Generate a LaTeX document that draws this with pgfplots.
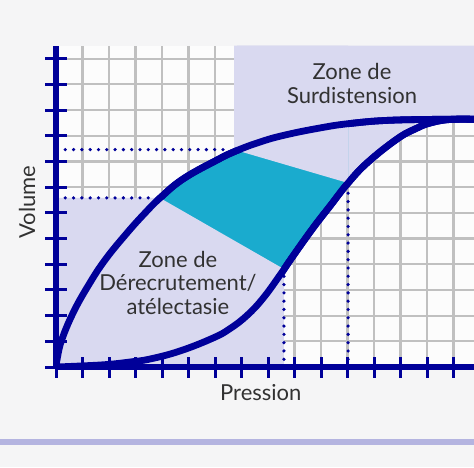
\documentclass[border=0pt]{standalone}
\usepackage{pgfplots}
\pgfplotsset{compat=1.18}
\usepackage{pgfplotstable}
\usepgfplotslibrary{fillbetween}
\usepackage{fontspec}
\setmainfont{Lato}
\definecolor{navy}{RGB}{0,0,153}
\definecolor{lav}{RGB}{217,217,240}
\definecolor{cyn}{RGB}{26,171,206}
\definecolor{gridc}{RGB}{192,192,192}
\definecolor{bgc}{RGB}{245,245,246}
\definecolor{axbg}{RGB}{252,252,252}
\definecolor{txt}{RGB}{50,50,50}
\definecolor{lineb}{RGB}{180,180,224}
\pagecolor{bgc}
\pgfplotstableread{
x y
0 0
0.057 0.389
0.215 1.051
0.642 2.101
1.208 3.152
1.849 4.163
2.679 5.214
3.358 5.992
3.925 6.576
4.792 7.315
6.075 8.054
6.830 8.424
7.698 8.755
8.566 9.008
9.849 9.280
11.094 9.475
12.868 9.611
15.774 9.640
}\upcurvedata
\pgfplotstableread{
x y
0 0
0.906 0.039
1.925 0.097
2.792 0.195
3.547 0.311
4.679 0.623
5.925 1.128
6.566 1.494
7.208 2.008
7.811 2.673
8.453 3.580
8.943 4.319
9.698 5.409
10.340 6.265
11.019 7.160
11.774 7.977
12.868 8.872
13.547 9.261
14.113 9.494
14.868 9.632
15.774 9.640
}\lowcurvedata
\pgfplotsset{
  layers/mylayers/.define layer set={axis background,axis grid,pre main,main,axis ticks,axis lines,axis tick labels,axis descriptions,axis foreground}{/pgfplots/layers/standard},
  dotguide/.style={draw=navy, line width=3.6pt, line cap=round, dash pattern=on 0pt off 8.3pt, forget plot},
  curve/.style={draw=navy, line width=6.8pt, smooth, /tikz/tension=0.7, forget plot},
}
\begin{document}
\begin{tikzpicture}
\begin{axis}[
  set layers=mylayers,
  scale only axis, width=418pt, height=321.25pt,
  xmin=0, xmax=15.77, ymin=0, ymax=12.5,
  axis lines=left, axis line style={navy, line width=5.5pt, -},
  xtick={0,...,15}, ytick={0,...,12},
  xticklabels={}, yticklabels={},
  tick align=center, major tick length=21pt,
  tick style={navy, line width=3pt},
  grid=major, major grid style={gridc, line width=2.2pt},
  axis background/.style={fill=axbg},
  xlabel={Pression}, ylabel={Volume},
  label style={font=\fontsize{22}{24}\selectfont, text=txt},
  xlabel style={at={(rel axis cs:0.49,-0.081)}, anchor=center},
  ylabel style={at={(rel axis cs:-0.0694,0.514)}, anchor=center},
]
% named curves for the fills
\addplot[curve, name path=up] table {\upcurvedata};
\addplot[curve, name path=lo] table {\lowcurvedata};
\addplot[draw=none, name path=topline, forget plot] coordinates {(0,12.5) (15.77,12.5)};
% fills on the pre main layer
\addplot[fill=lav, draw=none, forget plot] fill between[of=lo and topline, soft clip={domain=6.72:15.77}];
\addplot[fill=cyn, draw=none, forget plot] fill between[of=up and lo, soft clip={domain=3.925:11.02}];
% lower-left zone (below line A-D) and surdistension part above line B-C
\addplot[fill=lav, draw=none, forget plot] coordinates {(0,0) (8.6,0) (8.6,3.81) (3.925,6.576) (0,6.576)};
\addplot[fill=lav, draw=none, forget plot] coordinates {(6.83,8.424) (11.02,7.16) (11.02,12.5) (6.83,12.5)};
% dotted guides
\addplot[dotguide] coordinates {(0.35,6.58) (3.75,6.58)};
\addplot[dotguide] coordinates {(0.35,8.46) (6.6,8.46)};
\addplot[dotguide] coordinates {(8.6,0.3) (8.6,3.65)};
\addplot[dotguide] coordinates {(11.02,0.3) (11.02,6.98)};
% curves drawn again on top of the fills
\addplot[curve] table {\upcurvedata};
\addplot[curve] table {\lowcurvedata};
% zone labels
\node[font=\fontsize{22}{23.5}\selectfont, text=txt, align=center] at (axis cs:11.17,11.04) {Zone de\\Surdistension};
\node[font=\fontsize{22}{23.5}\selectfont, text=txt, align=center] at (axis cs:4.6,3.27) {Zone de\\Dérecrutement/\\atélectasie};
\end{axis}
\fill[lineb] (-56pt,-78pt) rectangle (418pt,-72.3pt);
\pgfresetboundingbox
\path[use as bounding box] (-56pt,-100pt) rectangle (418pt,367pt);
\end{tikzpicture}
\end{document}
